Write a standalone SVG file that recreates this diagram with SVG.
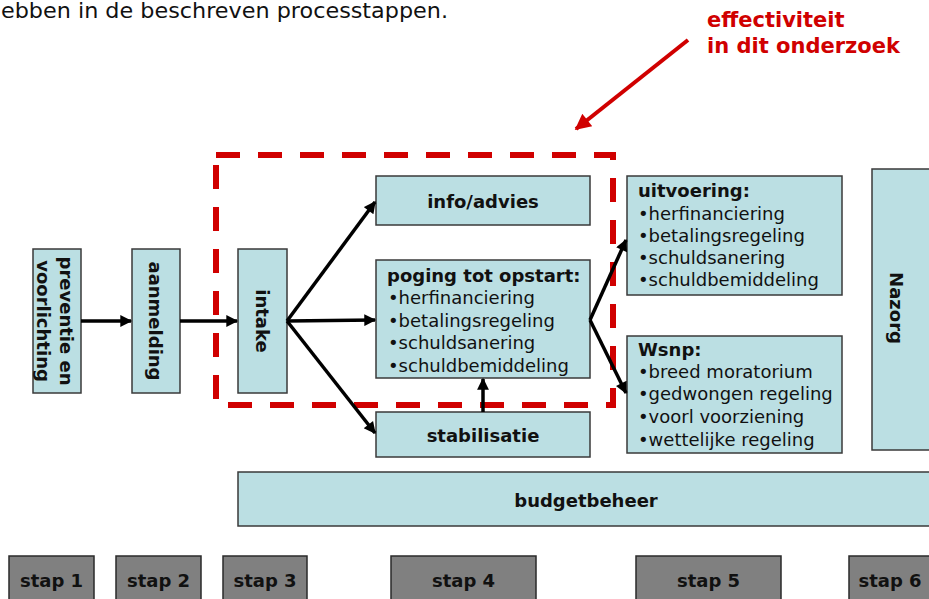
<svg xmlns="http://www.w3.org/2000/svg" width="929" height="599" viewBox="0 0 929 599">
<style>
text{font-family:"DejaVu Sans",Verdana,sans-serif;font-size:18px;fill:#111}
.b{font-weight:bold}
.box{fill:#bbdfe3;stroke:#3a3a3a;stroke-width:1.5}
.stap{fill:#808080;stroke:#2a2a2a;stroke-width:1.5}
.c{text-anchor:middle}
.red{fill:#d00000;font-weight:bold;font-size:21px}
.con{stroke:#000;stroke-width:3.5;fill:none}
</style>
<defs>
<marker id="ah" viewBox="0 0 10 10" refX="9" refY="5" markerWidth="4" markerHeight="3.4" orient="auto" markerUnits="strokeWidth">
<path d="M0,0 L10,5 L0,10 z" fill="#000"/>
</marker>
<marker id="rah" viewBox="0 0 10 10" refX="9" refY="5" markerWidth="4.5" markerHeight="4" orient="auto" markerUnits="strokeWidth">
<path d="M0,0 L10,5 L0,10 z" fill="#d00000"/>
</marker>
</defs>
<rect width="929" height="599" fill="#fff"/>
<text x="1" y="18" style="font-size:21px" textLength="447" lengthAdjust="spacingAndGlyphs">ebben in de beschreven processtappen.</text>
<g id="label-effectiviteit">
<text class="red" x="707" y="27">effectiviteit</text>
<text class="red" x="707" y="53">in dit onderzoek</text>
</g>
<g id="focus-area">
<rect x="216" y="155" width="397" height="250" fill="none" stroke="#d00000" stroke-width="6" stroke-dasharray="24 18"/>
</g>
<g id="preventie">
<rect class="box" x="33" y="249" width="48" height="144"/>
<text class="b c" transform="translate(60,321) rotate(90)">preventie en</text>
<text class="b c" transform="translate(37,321) rotate(90)">voorlichting</text>
</g>
<g id="aanmelding">
<rect class="box" x="132" y="249" width="48" height="144"/>
<text class="b c" transform="translate(149,321) rotate(90)">aanmelding</text>
</g>
<g id="intake">
<rect class="box" x="238" y="249" width="49" height="144"/>
<text class="b c" transform="translate(256,321) rotate(90)">intake</text>
</g>
<g id="info-advies">
<rect class="box" x="376" y="176" width="214" height="49"/>
<text class="b c" x="483" y="208">info/advies</text>
</g>
<g id="poging">
<rect class="box" x="376" y="260" width="214" height="118"/>
<text class="b" x="387" y="282">poging tot opstart:</text>
<text x="388" y="304">•herfinanciering</text>
<text x="388" y="327">•betalingsregeling</text>
<text x="388" y="349">•schuldsanering</text>
<text x="388" y="372">•schuldbemiddeling</text>
</g>
<g id="stabilisatie">
<rect class="box" x="376" y="412" width="214" height="45"/>
<text class="b c" x="483" y="442">stabilisatie</text>
</g>
<g id="uitvoering">
<rect class="box" x="627" y="176" width="215" height="119"/>
<text class="b" x="638" y="197">uitvoering:</text>
<text x="638" y="220">•herfinanciering</text>
<text x="638" y="242">•betalingsregeling</text>
<text x="638" y="264">•schuldsanering</text>
<text x="638" y="286">•schuldbemiddeling</text>
</g>
<g id="wsnp">
<rect class="box" x="627" y="336" width="215" height="117"/>
<text class="b" x="638" y="356">Wsnp:</text>
<text x="638" y="378">•breed moratorium</text>
<text x="638" y="400">•gedwongen regeling</text>
<text x="638" y="423">•voorl voorziening</text>
<text x="638" y="446">•wettelijke regeling</text>
</g>
<g id="nazorg">
<rect class="box" x="872" y="169" width="70" height="281"/>
<text class="b c" transform="translate(890,308) rotate(90)">Nazorg</text>
</g>
<g id="budgetbeheer">
<rect class="box" x="238" y="472" width="704" height="54"/>
<text class="b c" x="586" y="507">budgetbeheer</text>
</g>
<g id="stap1"><rect class="stap" x="9" y="556" width="85" height="50"/><text class="b c" x="51.5" y="587">stap 1</text></g>
<g id="stap2"><rect class="stap" x="116" y="556" width="85" height="50"/><text class="b c" x="158.5" y="587">stap 2</text></g>
<g id="stap3"><rect class="stap" x="223" y="556" width="84" height="50"/><text class="b c" x="265" y="587">stap 3</text></g>
<g id="stap4"><rect class="stap" x="391" y="556" width="145" height="50"/><text class="b c" x="463.5" y="587">stap 4</text></g>
<g id="stap5"><rect class="stap" x="636" y="556" width="145" height="50"/><text class="b c" x="708.5" y="587">stap 5</text></g>
<g id="stap6"><rect class="stap" x="849" y="556" width="85" height="50"/><text class="b c" x="890" y="587">stap 6</text></g>
<g id="connectors">
<line class="con" x1="81" y1="321" x2="131" y2="321" marker-end="url(#ah)"/>
<line class="con" x1="180" y1="321" x2="237" y2="321" marker-end="url(#ah)"/>
<line class="con" x1="287" y1="321" x2="375" y2="202" marker-end="url(#ah)"/>
<line class="con" x1="287" y1="321" x2="375" y2="320" marker-end="url(#ah)"/>
<line class="con" x1="287" y1="321" x2="375" y2="433" marker-end="url(#ah)"/>
<line class="con" x1="483" y1="412" x2="483" y2="379" marker-end="url(#ah)"/>
<line class="con" x1="590" y1="320" x2="626" y2="240" marker-end="url(#ah)"/>
<line class="con" x1="590" y1="320" x2="626" y2="393" marker-end="url(#ah)"/>
<line x1="688" y1="40" x2="576" y2="129" stroke="#d00000" stroke-width="4" marker-end="url(#rah)"/>
</g>
</svg>
